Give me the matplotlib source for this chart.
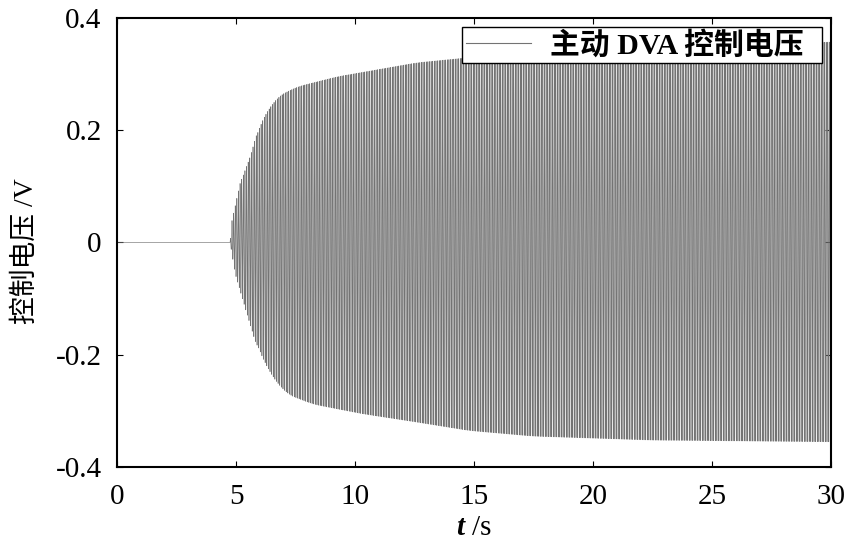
import numpy as np
import matplotlib
matplotlib.use('Agg')
import matplotlib.pyplot as plt

plt.rcParams['font.family'] = ['Liberation Serif', 'Noto Sans CJK SC']
plt.rcParams['mathtext.fontset'] = 'custom'
plt.rcParams['mathtext.it'] = 'Liberation Serif:italic:bold'

# envelope of the control voltage (t in s, V)
up_t = [0.0, 4.75, 4.83, 5.17, 5.59, 6.0, 6.72, 7.56, 9.24, 12.6, 15.0, 20.0, 25.0, 30.0]
up_v = [0.0, 0.0, 0.039, 0.105, 0.152, 0.212, 0.259, 0.277, 0.295, 0.32, 0.33, 0.343, 0.348, 0.357]
lo_t = [0.0, 4.75, 4.96, 5.38, 5.8, 6.43, 7.14, 8.24, 10.3, 12.6, 14.8, 17.5, 22.5, 30.0]
lo_v = [0.0, 0.0, -0.055, -0.116, -0.175, -0.234, -0.27, -0.288, -0.305, -0.32, -0.335, -0.345, -0.352, -0.355]
carrier_hz = 14.7  # oscillation frequency of the signal

t = np.linspace(0, 30, 90000)
dt = t[1] - t[0]


def envelope(tp, vp):
    raw = np.interp(t, tp, vp)
    # soften the corners between the read points, keep the onset as read
    k = int(0.35 / dt)
    pad = np.pad(raw, k, mode='edge')
    smooth = np.convolve(pad, np.ones(2 * k + 1) / (2 * k + 1), mode='same')[k:-k]
    return np.where(t < 5.9, raw, smooth)


c = np.cos(2 * np.pi * carrier_hz * t)
up = envelope(up_t, up_v)
lo = envelope(lo_t, lo_v)
v = np.where(c >= 0, c * up, -c * lo)

fig, ax = plt.subplots(figsize=(8.48, 5.4), dpi=100)
fig.subplots_adjust(left=0.138, right=0.98, top=0.967, bottom=0.135)

ax.plot(t, v, color='0.45', lw=0.45, label='主动 DVA 控制电压  ')

ax.set_xlim(0, 30)
ax.set_ylim(-0.4, 0.4)
ax.set_xticks([0, 5, 10, 15, 20, 25, 30])
ax.set_yticks([-0.4, -0.2, 0, 0.2, 0.4])
ax.set_yticklabels(['-0.4', '-0.2', '0', '0.2', '0.4'])
ax.tick_params(direction='in', top=True, right=True, length=4, width=0.8,
               labelsize=21)
ax.tick_params(axis='x', pad=12)
ax.tick_params(axis='y', pad=11)
for s in ax.spines.values():
    s.set_linewidth(1.5)

ax.set_xlabel(r'$t$ /s', fontsize=21, labelpad=4)
ax.set_ylabel('控制电压 /V', fontsize=20)
ax.yaxis.set_label_coords(-0.11, 0.48)

leg = ax.legend(loc='upper right', frameon=True, fancybox=False,
                edgecolor='black', handlelength=2.2, handletextpad=0.62,
                borderaxespad=0.3, borderpad=0.12, framealpha=1,
                prop={'weight': 'bold', 'size': 21.5})
leg.get_frame().set_linewidth(1.0)
for line in leg.get_lines():
    line.set_linewidth(0.8)

fig.savefig('out.png', dpi=100)
